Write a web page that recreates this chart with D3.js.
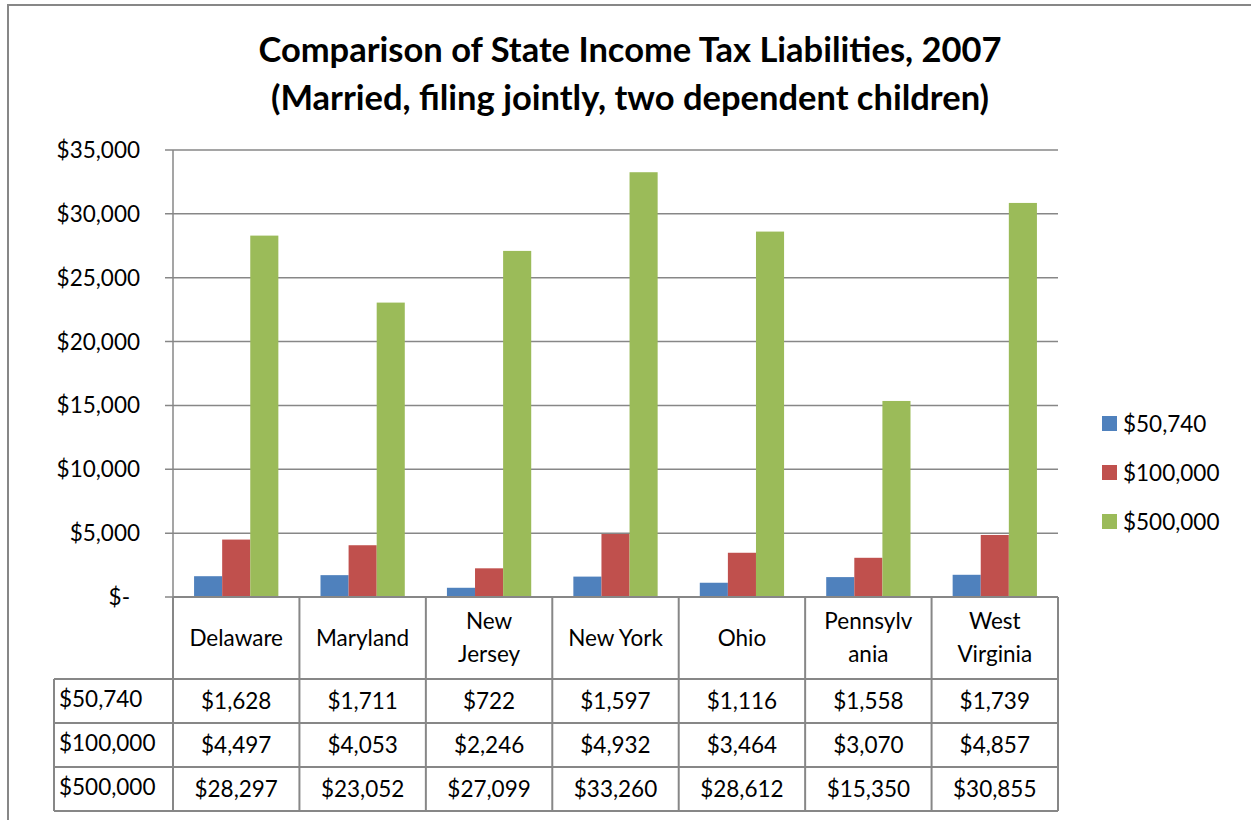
<!DOCTYPE html>
<html>
<head>
<meta charset="utf-8">
<script src="https://cdn.jsdelivr.net/npm/d3@7"></script>
<style>
  body { margin: 0; background: #fff; }
  text { font-family: Lato, "Open Sans", sans-serif; fill: #000; }
</style>
</head>
<body>
<div id="chart"></div>
<script>
// data
let states = ["Delaware", "Maryland", "New Jersey", "New York", "Ohio", "Pennsylvania", "West Virginia"];
let stateLines = [["Delaware"], ["Maryland"], ["New", "Jersey"], ["New York"], ["Ohio"], ["Pennsylv", "ania"], ["West", "Virginia"]];
let seriesNames = ["$50,740", "$100,000", "$500,000"];
let inc50740 = [1628, 1711, 722, 1597, 1116, 1558, 1739];
let inc100000 = [4497, 4053, 2246, 4932, 3464, 3070, 4857];
let inc500000 = [28297, 23052, 27099, 33260, 28612, 15350, 30855];
let yTicks = [0, 5000, 10000, 15000, 20000, 25000, 30000, 35000];
let colors = ["#4F81BD", "#C0504D", "#9BBB59"];

let allSeries = [inc50740, inc100000, inc500000];

let W = 1251, H = 820;
let plot = { left: 173, right: 1058, top: 150, bottom: 597 };
let fs = "22.5px";

let svg = d3.select("#chart").append("svg")
    .attr("width", W)
    .attr("height", H);

// outer chart border (only top and left visible)
svg.append("rect")
    .attr("x", 8).attr("y", 5)
    .attr("width", W + 20).attr("height", H + 20)
    .attr("fill", "none")
    .attr("stroke", "#878787")
    .attr("stroke-width", 2);

// title
let title = svg.append("text")
    .attr("text-anchor", "middle")
    .style("font-size", "34.5px")
    .style("font-weight", "bold");
title.append("tspan").attr("x", 630).attr("y", 62).text("Comparison of State Income Tax Liabilities, 2007");
title.append("tspan").attr("x", 630).attr("y", 110).text("(Married, filing jointly, two dependent children)");

// scales
let x0 = d3.scaleBand()
    .domain(states)
    .range([plot.left, plot.right])
    .paddingInner(0).paddingOuter(0);

let barW = x0.bandwidth() / 4.5;

let y = d3.scaleLinear()
    .domain([0, 35000])
    .range([plot.bottom, plot.top]);

// gridlines
svg.append("g")
    .selectAll("line")
    .data(yTicks)
    .join("line")
    .attr("x1", plot.left - 8)
    .attr("x2", plot.right)
    .attr("y1", d => y(d))
    .attr("y2", d => y(d))
    .attr("stroke", "#878787")
    .attr("stroke-width", 1.5);

// y axis line
svg.append("line")
    .attr("x1", plot.left).attr("x2", plot.left)
    .attr("y1", plot.top).attr("y2", plot.bottom)
    .attr("stroke", "#878787").attr("stroke-width", 1.5);

// y labels
let fmt = d3.format(",");
svg.append("g")
    .selectAll("text")
    .data(yTicks)
    .join("text")
    .attr("x", d => d === 0 ? 130 : 140)
    .attr("y", d => y(d) + 8)
    .attr("text-anchor", "end")
    .style("font-size", fs)
    .text(d => d === 0 ? "$-" : "$" + fmt(d));

// bars
allSeries.forEach((vals, si) => {
    svg.append("g")
        .selectAll("rect")
        .data(vals)
        .join("rect")
        .attr("x", (d, i) => x0(states[i]) + barW * 0.75 + si * barW)
        .attr("y", d => y(d))
        .attr("width", barW)
        .attr("height", d => plot.bottom - y(d))
        .attr("fill", colors[si]);
});

// data table
let rowY = [597, 679, 723, 767, 811];
let tableLeft = 54;
let tg = svg.append("g");
let lineCol = "#878787";

// horizontal lines
tg.append("line").attr("x1", plot.left).attr("x2", plot.right).attr("y1", rowY[0]).attr("y2", rowY[0])
    .attr("stroke", lineCol).attr("stroke-width", 2);
rowY.slice(1).forEach(ry => {
    tg.append("line").attr("x1", tableLeft).attr("x2", plot.right).attr("y1", ry).attr("y2", ry)
        .attr("stroke", lineCol).attr("stroke-width", 2);
});

// vertical lines
let colEdges = states.map(s => x0(s)).concat([plot.right]);
colEdges.forEach(cx => {
    tg.append("line").attr("x1", cx).attr("x2", cx).attr("y1", rowY[0]).attr("y2", rowY[4])
        .attr("stroke", lineCol).attr("stroke-width", 2);
});
tg.append("line").attr("x1", tableLeft).attr("x2", tableLeft).attr("y1", rowY[1]).attr("y2", rowY[4])
    .attr("stroke", lineCol).attr("stroke-width", 2);

// header labels
stateLines.forEach((lines, i) => {
    let cx = x0(states[i]) + x0.bandwidth() / 2;
    let t = tg.append("text").attr("text-anchor", "middle").style("font-size", fs);
    if (lines.length === 1) {
        t.append("tspan").attr("x", cx).attr("y", 646).text(lines[0]);
    } else {
        t.append("tspan").attr("x", cx).attr("y", 629).text(lines[0]);
        t.append("tspan").attr("x", cx).attr("y", 662).text(lines[1]);
    }
});

// rows
allSeries.forEach((vals, si) => {
    let ty = rowY[si + 1] + 30;
    tg.append("text")
        .attr("x", 59).attr("y", ty - 2)
        .style("font-size", fs)
        .text(seriesNames[si]);
    tg.selectAll(null)
        .data(vals)
        .join("text")
        .attr("x", (d, i) => x0(states[i]) + x0.bandwidth() / 2)
        .attr("y", ty)
        .attr("text-anchor", "middle")
        .style("font-size", fs)
        .text(d => "$" + fmt(d));
});

// legend
let legend = svg.append("g");
seriesNames.forEach((name, i) => {
    let ly = 423 + i * 49;
    legend.append("rect")
        .attr("x", 1102).attr("y", ly - 7)
        .attr("width", 15).attr("height", 15)
        .attr("fill", colors[i]);
    legend.append("text")
        .attr("x", 1123).attr("y", ly + 9)
        .style("font-size", fs)
        .text(name);
});
</script>
</body>
</html>
